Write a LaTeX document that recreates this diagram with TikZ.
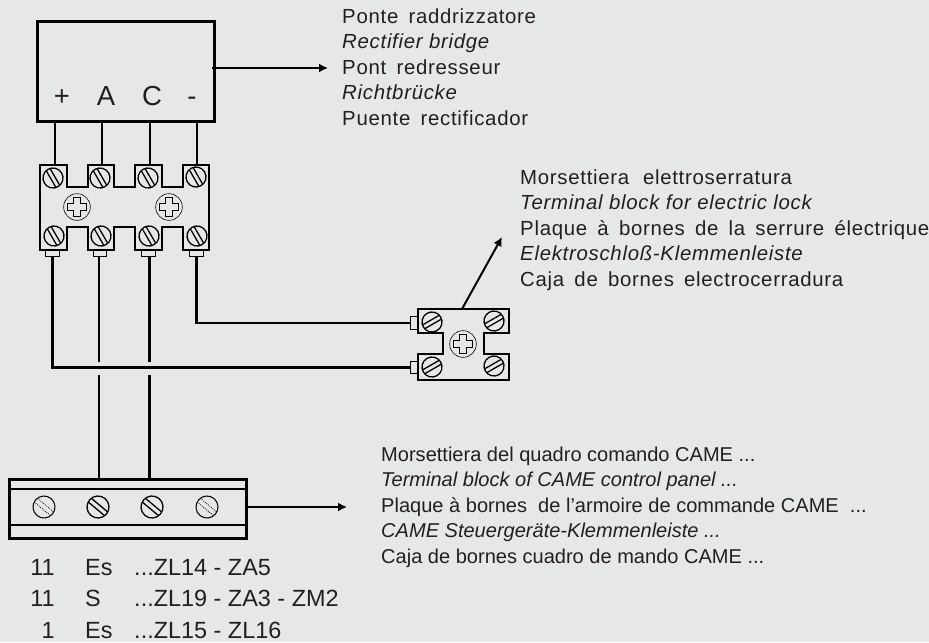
\documentclass[tikz,border=0pt]{standalone}
\usepackage{fontspec}
\setmainfont{Liberation Sans}
\newfontfamily\widefont[LetterSpace=3.5,WordSpace=1.6,ItalicFeatures={WordSpace=1.0}]{Liberation Sans}
\usetikzlibrary{arrows.meta}
\definecolor{panelgrey}{HTML}{E6E7E9}
\definecolor{inkgrey}{HTML}{231F20}
\tikzset{
  wire/.style={black, line width=2.2pt},
  outline/.style={black, line width=2.2pt},
  pointer/.style={black, line width=1.7pt, -{Latex[length=2.7mm,width=2.7mm]}},
  lug/.style={draw=black, line width=0.8pt, minimum width=0.4cm, minimum height=0.2cm, inner sep=0pt},
  sidelug/.style={draw=black, line width=0.8pt, minimum width=0.24cm, minimum height=0.37cm, inner sep=0pt},
  caption/.style={inkgrey, anchor=west, align=left, inner sep=0pt, font=\fontsize{17.1}{21.7}\selectfont},
  widecaption/.style={caption, font=\widefont\fontsize{17.4}{21.7}\selectfont},
  code/.style={inkgrey, inner sep=0pt, font=\fontsize{20}{24}\selectfont},
  pole/.style={inkgrey, anchor=base, inner sep=0pt, font=\fontsize{23.5}{26}\selectfont},
  screwhead/.style={circle, draw=black, line width=1.1pt, minimum size=0.6cm, inner sep=0pt, transform shape},
  slot/.style={black, line width=1.1pt},
  dotslot/.style={black, line width=0.7pt, densely dotted},
  slotscrew/.pic={
    \node [screwhead] (-head) {};
    \draw [slot] (-9.7,-2.2) -- (9.7,-2.2);
    \draw [slot] (-9.7,2.2) -- (9.7,2.2);
  },
  dotscrew/.pic={
    \node [screwhead, line width=0.9pt] (-head) {};
    \draw [dotslot] (-9.7,-2.2) -- (9.7,-2.2);
    \draw [dotslot] (-9.7,2.2) -- (9.7,2.2);
  },
  plusscrew/.pic={
    \node [screwhead, line width=0.5pt, minimum size=0.8cm] (-head) {};
    \draw [black, line width=0.7pt] (-3.5,-9.5) -- (3.5,-9.5) -- (3.5,-3.5) -- (9.5,-3.5) -- (9.5,3.5) -- (3.5,3.5)
      -- (3.5,9.5) -- (-3.5,9.5) -- (-3.5,3.5) -- (-9.5,3.5) -- (-9.5,-3.5) -- (-3.5,-3.5) -- cycle;
  },
}
\begin{document}
\begin{tikzpicture}[x=0.03cm, y=-0.03cm]
\fill [panelgrey] (0,0) rectangle (929,642);
\useasboundingbox (0,0) rectangle (929,642);
% rectifier bridge
\node [draw=black, line width=2.2pt, minimum width=5.3cm, minimum height=3cm, inner sep=0pt] (bridge) at (126,71.5) {};
\node [pole] (plus) at (62,105) {+};
\node [pole] (a) at (106,105) {A};
\node [pole] (c) at (152,105) {C};
\node [pole] (minus) at (192,105) {-};
\coordinate (bridgeout) at (212,68);
\coordinate (bridgetip) at (328,68);
\coordinate (wp) at (55,122);
\coordinate (wa) at (102,122);
\coordinate (wc) at (150,122);
\coordinate (wm) at (197,122);
\coordinate (tp) at (55,165);
\coordinate (ta) at (102,165);
\coordinate (tc) at (150,165);
\coordinate (tm) at (197,165);
% terminal block under the bridge
\draw [outline] (40,165) -- (67,165) -- (67,187) -- (88,187) -- (88,165) -- (114,165) -- (114,187) -- (135,187)
  -- (135,165) -- (162,165) -- (162,187) -- (183,187) -- (183,165) -- (209,165) -- (209,250) -- (183,250)
  -- (183,227) -- (162,227) -- (162,250) -- (135,250) -- (135,227) -- (114,227) -- (114,250) -- (88,250)
  -- (88,227) -- (67,227) -- (67,250) -- (40,250) -- cycle;
\pic [rotate=-60] (s1) at (53,178) {slotscrew};
\pic [rotate=-60] (s2) at (100,178) {slotscrew};
\pic [rotate=-60] (s3) at (148,178) {slotscrew};
\pic [rotate=-60] (s4) at (196,177) {slotscrew};
\pic [rotate=-60] (s5) at (54,236) {slotscrew};
\pic [rotate=-60] (s6) at (101,236) {slotscrew};
\pic [rotate=-60] (s7) at (149,236) {slotscrew};
\pic [rotate=-60] (s8) at (197,236) {slotscrew};
\pic (cl) at (77,207) {plusscrew};
\pic (cr) at (169,207) {plusscrew};
\node [lug] (l1) at (52.5,253.5) {};
\node [lug] (l2) at (100,253.5) {};
\node [lug] (l3) at (148.5,253.5) {};
\node [lug] (l4) at (196.5,253.5) {};
% terminal block for the lock
\draw [outline] (418,309) -- (509,309) -- (509,333) -- (484,333) -- (484,354) -- (509,354) -- (509,380) -- (418,380)
  -- (418,354) -- (443,354) -- (443,333) -- (418,333) -- cycle;
\pic [rotate=30] (s9) at (432,322) {slotscrew};
\pic [rotate=30] (s10) at (494,321) {slotscrew};
\pic [rotate=30] (s11) at (432,367) {slotscrew};
\pic [rotate=30] (s12) at (494,366) {slotscrew};
\pic (cm) at (463,344) {plusscrew};
\node [sidelug] (l5) at (414,323) {};
\node [sidelug] (l6) at (414,367.5) {};
\coordinate (lockout) at (462,309);
\coordinate (locktip) at (502,237);
% terminal block of the panel
\node [draw=black, line width=2.2pt, minimum width=7.1cm, minimum height=1.78cm, inner sep=0pt] (panel) at (128,509) {};
\draw [black, line width=1pt] (9,489) -- (247,489);
\draw [black, line width=1pt] (9,525) -- (247,525);
\pic [rotate=-40, scale=1.1] (s13) at (44,507) {dotscrew};
\pic [rotate=-40, scale=1.1] (s14) at (98,507) {slotscrew};
\pic [rotate=-40, scale=1.1] (s15) at (152,507) {slotscrew};
\pic [rotate=-40, scale=1.1] (s16) at (207,507) {dotscrew};
\coordinate (panelout) at (245,507);
\coordinate (paneltip) at (347,507);
% crossing
\coordinate (g2) at (99,362);
\coordinate (g3) at (149.5,362);
\coordinate (h2) at (99,375);
\coordinate (h3) at (149.5,375);
\coordinate (e2) at (99,479);
\coordinate (e3) at (149.5,479);
\draw [wire] (wp) -- (tp);
\draw [wire] (wa) -- (ta);
\draw [wire] (wc) -- (tc);
\draw [wire] (wm) -- (tm);
\draw [wire] (l1.south) |- (l6.west);
\draw [wire] (l4.south) |- (l5.west);
\draw [wire] (l2.south -| g2) -- (g2);
\draw [wire] (l3.south -| g3) -- (g3);
\draw [wire] (h2) -- (e2);
\draw [wire] (h3) -- (e3);
\draw [pointer] (bridgeout) -- (bridgetip);
\draw [pointer] (lockout) -- (locktip);
\draw [pointer] (panelout) -- (paneltip);
% captions
\node [widecaption] (bridgetxt) at (342,67) {Ponte raddrizzatore\\\textit{Rectifier bridge}\\Pont redresseur\\\textit{Richtbrücke}\\Puente rectificador};
\node [widecaption] (locktxt) at (520,230) {Morsettiera\hspace{3pt} elettroserratura\\\textit{Terminal block for electric lock}\\Plaque à bornes de la serrure électrique\\\textit{Elektroschloß-Klemmenleiste}\\Caja de bornes electrocerradura};
\node [caption] (paneltxt) at (381,507) {Morsettiera del quadro comando CAME ...\\\textit{Terminal block of CAME control panel ...}\\Plaque à bornes\ \ de l’armoire de commande CAME\ \ ...\\\textit{CAME Steuergeräte-Klemmenleiste ...}\\Caja de bornes cuadro de mando CAME ...};
\node [code, anchor=base east] (n1) at (55,575) {11};
\node [code, anchor=base west] (k1) at (85,575) {Es};
\node [code, anchor=base west] (m1) at (134,575) {...ZL14 - ZA5};
\node [code, anchor=base east] (n2) at (55,606) {11};
\node [code, anchor=base west] (k2) at (85,606) {S};
\node [code, anchor=base west] (m2) at (134,606) {...ZL19 - ZA3 - ZM2};
\node [code, anchor=base east] (n3) at (55,638) {1};
\node [code, anchor=base west] (k3) at (85,638) {Es};
\node [code, anchor=base west] (m3) at (134,638) {...ZL15 - ZL16};
\end{tikzpicture}
\end{document}
